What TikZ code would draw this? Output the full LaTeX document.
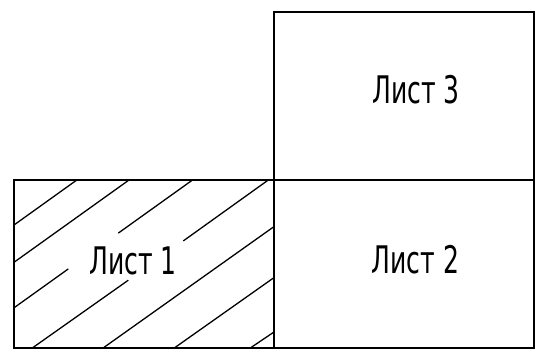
\documentclass[tikz,border=0pt]{standalone}
\usepackage{fontspec}
\newfontfamily\gostfont[FakeStretch=0.66]{DejaVu Sans}
\begin{document}
\begin{tikzpicture}[x=1pt,y=-1pt,
  sheet/.style={draw=black, line width=1.8pt, minimum width=260pt, minimum height=168pt, inner sep=0pt, outer sep=0pt},
  label/.style={font=\gostfont\fontsize{38}{40}\selectfont, inner sep=0pt, anchor=center},
  hatch/.style={draw=black, line width=1.3pt}]
\useasboundingbox (0,0) rectangle (540,360);
% sheets
\node[sheet] (s1) at (144,264) {};
\node[sheet] (s2) at (404,264) {};
\node[sheet] (s3) at (404,96) {};
% hatching of sheet 1
\coordinate (a1) at (76.8,180);  \coordinate (a2) at (14,225);
\coordinate (b1) at (129,180);   \coordinate (b2) at (14,262.3);
\coordinate (c1) at (192.5,180); \coordinate (c2) at (118.3,233.1);
\coordinate (c3) at (68.3,268.9);\coordinate (c4) at (14,307.8);
\coordinate (d1) at (268.3,180); \coordinate (d2) at (183.3,240.9);
\coordinate (d3) at (128.3,280.2);\coordinate (d4) at (32.3,348);
\coordinate (e1) at (274,226.6); \coordinate (e2) at (103.1,348);
\coordinate (f1) at (274,277.6); \coordinate (f2) at (174.3,348);
\coordinate (g1) at (274,332);   \coordinate (g2) at (250.3,348);
\draw[hatch] (a1) -- (a2);
\draw[hatch] (b1) -- (b2);
\draw[hatch] (c1) -- (c2);
\draw[hatch] (c3) -- (c4);
\draw[hatch] (d1) -- (d2);
\draw[hatch] (d3) -- (d4);
\draw[hatch] (e1) -- (e2);
\draw[hatch] (f1) -- (f2);
\draw[hatch] (g1) -- (g2);
% labels
\node[label] (t1) at (133,261) {Лист 1};
\node[label] (t2) at (415.5,260) {Лист 2};
\node[label] (t3) at (416,90) {Лист 3};
\end{tikzpicture}
\end{document}
